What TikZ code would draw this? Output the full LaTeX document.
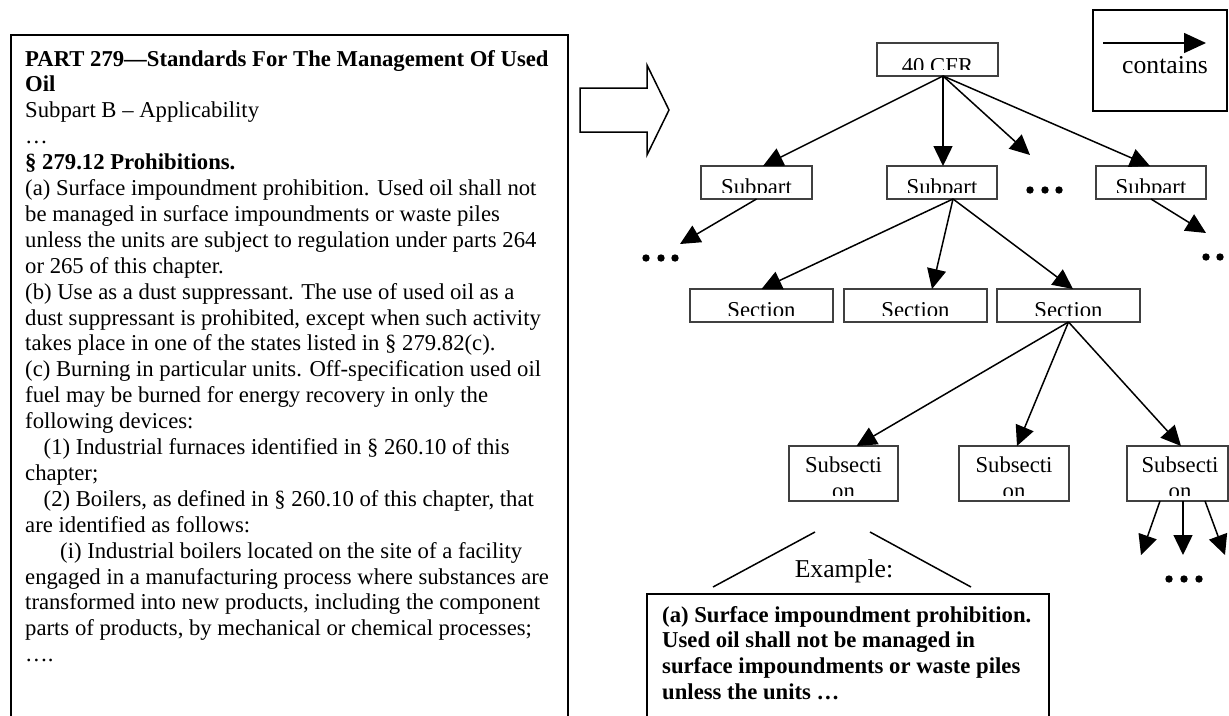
\documentclass[tikz,border=0pt]{standalone}
\usepackage{fontspec}
\setmainfont{Liberation Serif}
\usetikzlibrary{arrows.meta}
\tikzset{
  tbox/.style={draw=black!75, line width=1.1pt, inner sep=0pt, outer sep=0pt},
  lbl/.style={inner sep=0pt, anchor=base, font=\fontsize{22.7pt}{26pt}\selectfont},
  big/.style={inner sep=0pt, anchor=base, font=\fontsize{25.7pt}{29pt}\selectfont},
  arr/.style={line width=1.5pt, -{Triangle[length=20pt,width=19pt]}},
  frame/.style={draw=black, line width=2pt},
  blob/.style={fill=black}
}
\newcommand\treebox[5]{%
  \node[tbox, minimum width={(#4-#2)*1pt}, minimum height={(#5-#3)*1pt}] (#1) at ({(#2+#4)/2},{(#3+#5)/2}) {};}
\begin{document}
\begin{tikzpicture}[x=1pt,y=-1pt]
\clip (0,0) rectangle (1229,715);
% ---------- left text frame ----------
\draw[frame] (11,35) rectangle (568,760);
\node[anchor=base west, inner sep=0pt] (lefttext) at (25,66) {%
\begin{minipage}[t]{600pt}\raggedright\fontsize{22.7pt}{25.9pt}\selectfont
\textbf{PART 279—Standards For The Management Of Used}\\
\textbf{Oil}\\
Subpart B – Applicability\\
…\\
\textbf{§ 279.12 Prohibitions.}\\
(a) Surface impoundment prohibition. Used oil shall not\\
be managed in surface impoundments or waste piles\\
unless the units are subject to regulation under parts 264\\
or 265 of this chapter.\\
(b) Use as a dust suppressant. The use of used oil as a\\
dust suppressant is prohibited, except when such activity\\
takes place in one of the states listed in § 279.82(c).\\
(c) Burning in particular units. Off-specification used oil\\
fuel may be burned for energy recovery in only the\\
following devices:\\
\hspace*{18.5pt}(1) Industrial furnaces identified in § 260.10 of this\\
chapter;\\
\hspace*{18.5pt}(2) Boilers, as defined in § 260.10 of this chapter, that\\
are identified as follows:\\
\hspace*{35pt}(i) Industrial boilers located on the site of a facility\\
engaged in a manufacturing process where substances are\\
transformed into new products, including the component\\
parts of products, by mechanical or chemical processes;\\
….
\end{minipage}};
% ---------- hollow arrow ----------
\draw[line width=1.5pt, line join=miter] (580,88) -- (647,88) -- (647,65) -- (669,110) -- (647,155) -- (647,132) -- (580,132) -- cycle;
% ---------- legend ----------
\draw[frame] (1093,10) rectangle (1227,111);
\coordinate (lgA) at (1103,43);
\coordinate (lgB) at (1206,43);
\draw[line width=1.5pt, -{Triangle[length=22pt,width=20pt]}] (lgA) -- (lgB);
\node[big] (contains) at (1165,73) {contains};
% ---------- tree boxes ----------
\treebox{cfr}{877}{43}{998}{76}
\begin{scope}\clip (877,43) rectangle (998,69);
\node[lbl] (cfrt) at (937.5,73) {40 CFR};\end{scope}
\treebox{sp1}{701}{166}{812}{199}
\treebox{sp2}{887}{166}{997}{199}
\treebox{sp3}{1096}{166}{1206}{199}
\begin{scope}\clip (701,166) rectangle (812,192);
\node[lbl] (sp1t) at (756.5,194) {Subpart};\end{scope}
\begin{scope}\clip (887,166) rectangle (997,192);
\node[lbl] (sp2t) at (942,194) {Subpart};\end{scope}
\begin{scope}\clip (1096,166) rectangle (1206,192);
\node[lbl] (sp3t) at (1151,194) {Subpart};\end{scope}
\treebox{sec1}{690}{289}{833}{322}
\treebox{sec2}{844}{289}{987}{322}
\treebox{sec3}{997}{289}{1140}{322}
\begin{scope}\clip (690,289) rectangle (833,315.5);
\node[lbl] (sec1t) at (761.5,317) {Section};\end{scope}
\begin{scope}\clip (844,289) rectangle (987,315.5);
\node[lbl] (sec2t) at (915.5,317) {Section};\end{scope}
\begin{scope}\clip (997,289) rectangle (1140,315.5);
\node[lbl] (sec3t) at (1068.5,317) {Section};\end{scope}
\treebox{ss1}{789}{446}{898}{501}
\treebox{ss2}{959}{446}{1069}{501}
\treebox{ss3}{1127}{446}{1228}{501}
\begin{scope}\clip (789,446) rectangle (898,495);
\node[lbl] (ss1a) at (843.5,472) {Subsecti};
\node[lbl] (ss1b) at (843.5,498) {on};\end{scope}
\begin{scope}\clip (959,446) rectangle (1069,495);
\node[lbl] (ss2a) at (1014,472) {Subsecti};
\node[lbl] (ss2b) at (1014,498) {on};\end{scope}
\begin{scope}\clip (1127,446) rectangle (1228,495);
\node[lbl] (ss3a) at (1180,472) {Subsecti};
\node[lbl] (ss3b) at (1180,498) {on};\end{scope}
% ---------- free ends ----------
\coordinate (d1) at (1030,155);
\coordinate (dl) at (680,244);
\coordinate (dr) at (1206,233);
\coordinate (b1) at (1141,555);
\coordinate (b2) at (1183,555);
\coordinate (b3) at (1225,555);
% ---------- connectors ----------
\draw[arr] ([xshift=5.5pt]cfr.south) -- ([xshift=6.5pt]sp1.north);
\draw[arr] ([xshift=5.5pt]cfr.south) -- ([xshift=1pt]sp2.north);
\draw[arr] ([xshift=5.5pt]cfr.south) -- (d1);
\draw[arr] ([xshift=5.5pt]cfr.south) -- ([xshift=-1pt]sp3.north);
\draw[arr] (sp1.south) -- (dl);
\draw[arr] (sp3.south) -- (dr);
\draw[arr] ([xshift=11pt]sp2.south) -- (sec1.north);
\draw[arr] ([xshift=11pt]sp2.south) -- ([xshift=16.5pt]sec2.north);
\draw[arr] ([xshift=11pt]sp2.south) -- ([xshift=4.5pt]sec3.north);
\draw[arr] (sec3.south) -- ([xshift=13pt]ss1.north);
\draw[arr] (sec3.south) -- ([xshift=3pt]ss2.north);
\draw[arr] (sec3.south) -- ([xshift=3.5pt]ss3.north);
\draw[arr] ([xshift=-17.5pt]ss3.south) -- (b1);
\draw[arr] ([xshift=5.5pt]ss3.south) -- (b2);
\draw[arr] ([xshift=27.5pt]ss3.south) -- (b3);
% ---------- dots ----------
\foreach \x in {1030,1045,1059} \fill[blob] (\x,190) circle[radius=3.7pt];
\foreach \x in {646,661,675} \fill[blob] (\x,258) circle[radius=3.7pt];
\foreach \x in {1206,1220,1234} \fill[blob] (\x,257) circle[radius=3.7pt];
\foreach \x in {1169,1184,1199} \fill[blob] (\x,579) circle[radius=3.7pt];
% ---------- example ----------
\coordinate (exL1) at (815,532); \coordinate (exL2) at (713,587);
\coordinate (exR1) at (870,532); \coordinate (exR2) at (971,587);
\draw[line width=1.5pt] (exL1) -- (exL2);
\draw[line width=1.5pt] (exR1) -- (exR2);
\node[big] (example) at (844,577) {Example:};
\draw[frame] (647,594) rectangle (1049,760);
\node[anchor=base west, inner sep=0pt] (extext) at (662,622) {%
\begin{minipage}[t]{450pt}\raggedright\fontsize{22.7pt}{25.9pt}\selectfont\bfseries
(a) Surface impoundment prohibition.\\
Used oil shall not be managed in\\
surface impoundments or waste piles\\
unless the units …
\end{minipage}};
\end{tikzpicture}
\end{document}
